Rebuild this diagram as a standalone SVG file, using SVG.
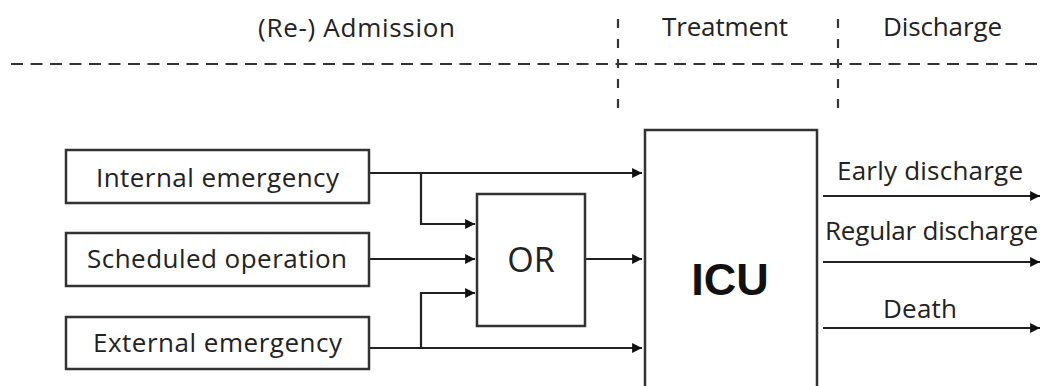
<svg xmlns="http://www.w3.org/2000/svg" width="1041" height="386" viewBox="0 0 1041 386">
  <style>
    .lbl { font-family: "Open Sans", "Liberation Sans", sans-serif; font-size: 26px; fill: #222; }
    .box { fill: #fff; stroke: #333; stroke-width: 2.5; }
    .ln { fill: none; stroke: #222; stroke-width: 2.2; }
    .dash { fill: none; stroke: #333; stroke-width: 2.2; }
  </style>
  <defs>
    <marker id="arr" viewBox="0 0 10 10" refX="10" refY="5" markerWidth="4.5" markerHeight="4.5" markerUnits="strokeWidth" orient="auto">
      <path d="M0,0 L10,5 L0,10 z" fill="#111"/>
    </marker>
  </defs>
  <rect width="1041" height="386" fill="#fff"/>

  <g id="phases">
    <line class="dash" x1="11" y1="64" x2="1041" y2="64" stroke-dasharray="12 7.5"/>
    <line class="dash" x1="618" y1="19" x2="618" y2="118" stroke-dasharray="9 11"/>
    <line class="dash" x1="838" y1="19" x2="838" y2="118" stroke-dasharray="9 11"/>
    <text class="lbl" x="258" y="37" textLength="197">(Re-) Admission</text>
    <text class="lbl" x="662" y="36" textLength="126">Treatment</text>
    <text class="lbl" x="883" y="36" textLength="119">Discharge</text>
  </g>

  <g id="connectors">
    <path class="ln" d="M369,173 H642" marker-end="url(#arr)"/>
    <path class="ln" d="M421,173 V224 H475" marker-end="url(#arr)"/>
    <path class="ln" d="M369,259 H475" marker-end="url(#arr)"/>
    <path class="ln" d="M421,348 V293 H475" marker-end="url(#arr)"/>
    <path class="ln" d="M369,348 H642" marker-end="url(#arr)"/>
    <path class="ln" d="M585,259 H642" marker-end="url(#arr)"/>
    <path class="ln" d="M823,196 H1040" marker-end="url(#arr)"/>
    <path class="ln" d="M823,262 H1040" marker-end="url(#arr)"/>
    <path class="ln" d="M823,328 H1040" marker-end="url(#arr)"/>
    <text class="lbl" x="837" y="180" textLength="186">Early discharge</text>
    <text class="lbl" x="825" y="240" textLength="213">Regular discharge</text>
    <text class="lbl" x="883" y="318" textLength="74">Death</text>
  </g>

  <g id="internal">
    <rect class="box" x="66" y="150" width="303" height="53"/>
    <text class="lbl" x="96" y="187" textLength="243">Internal emergency</text>
  </g>
  <g id="scheduled">
    <rect class="box" x="66" y="233" width="303" height="53"/>
    <text class="lbl" x="87" y="268" textLength="260">Scheduled operation</text>
  </g>
  <g id="external">
    <rect class="box" x="66" y="317" width="303" height="52"/>
    <text class="lbl" x="93" y="352" textLength="249">External emergency</text>
  </g>
  <g id="or">
    <rect class="box" x="477" y="194" width="108" height="132"/>
    <text class="lbl" x="531" y="272" text-anchor="middle" style="font-size:34px">OR</text>
  </g>
  <g id="icu">
    <rect class="box" x="645" y="130" width="172" height="270"/>
    <text x="730" y="295" text-anchor="middle" style="font-family:'Liberation Sans',Arial,sans-serif;font-size:45px;font-weight:bold;fill:#111">ICU</text>
  </g>
</svg>
